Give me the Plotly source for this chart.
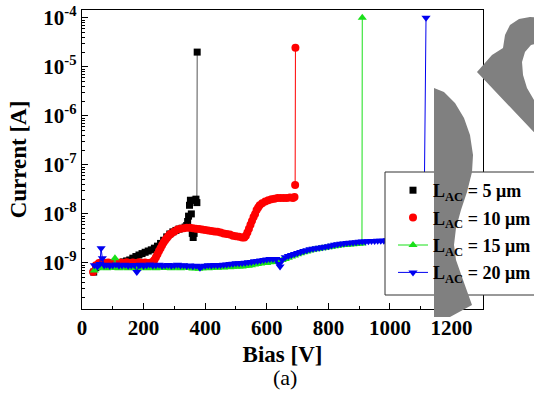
import plotly.graph_objects as go

# ---------------- data ----------------
bias_5 = [38, 45, 55, 65, 75, 85, 95, 105, 115, 125,
          135, 145, 155, 165, 175, 185, 195, 205, 215, 225, 235, 245, 255, 265, 275,
          285, 295, 305, 315, 325, 335,
          340, 343, 346, 349, 352, 355, 358, 361, 364, 367, 370, 373, 374]
cur_5 = [6.5e-10, 8e-10, 9e-10, 1.0e-9, 9.5e-10, 1.0e-9, 1.0e-9, 1.0e-9, 1.0e-9, 1.0e-9,
         1.05e-9, 1.1e-9, 1.15e-9, 1.25e-9, 1.35e-9, 1.45e-9, 1.55e-9, 1.65e-9, 1.75e-9, 1.85e-9,
         2.0e-9, 2.2e-9, 2.5e-9, 2.9e-9, 3.4e-9, 3.9e-9, 4.3e-9, 4.6e-9, 4.9e-9, 5.1e-9, 5.4e-9,
         5.8e-9, 7e-9, 9e-9, 1.5e-8, 1.9e-8, 1.0e-8, 4e-9, 3.3e-9, 4e-9, 1.9e-8, 2.0e-8, 1.7e-8, 2.0e-5]

bias_10 = [36, 45, 55, 65, 75, 85, 95, 105, 115, 125, 135, 145, 155, 165, 175, 185, 195, 205,
           215, 225, 230, 235, 240, 245, 250, 255, 260, 265, 270, 275, 280, 285, 290, 300,
           310, 320, 330, 340, 350, 360, 370, 380, 390, 400, 410, 420, 430, 440, 450, 460,
           470, 480, 490, 500, 510, 520, 527, 532, 537, 542, 547, 552, 557, 562, 567, 572,
           577, 585, 595, 605, 615, 625, 635, 645, 655, 665, 675, 685, 690, 692, 693]
cur_10 = [6.5e-10, 9e-10, 1.0e-9, 1.05e-9, 1.0e-9, 1.02e-9, 1.0e-9, 1.05e-9, 1.0e-9, 1.02e-9,
          1.0e-9, 1.03e-9, 1.0e-9, 1.02e-9, 1.0e-9, 1.03e-9, 1.0e-9, 1.02e-9, 1.0e-9, 1.02e-9,
          1.05e-9, 1.15e-9, 1.3e-9, 1.5e-9, 1.75e-9, 2.0e-9, 2.3e-9, 2.6e-9, 2.9e-9, 3.2e-9,
          3.5e-9, 3.8e-9, 4.0e-9, 4.4e-9, 4.8e-9, 5.0e-9, 5.1e-9, 5.2e-9, 5.2e-9, 5.1e-9,
          5.0e-9, 4.9e-9, 4.8e-9, 4.7e-9, 4.6e-9, 4.5e-9, 4.4e-9, 4.3e-9, 4.2e-9, 4.0e-9,
          3.9e-9, 3.8e-9, 3.6e-9, 3.5e-9, 3.4e-9, 3.3e-9, 3.3e-9, 3.6e-9, 4.2e-9, 5.0e-9,
          6.0e-9, 7.2e-9, 8.6e-9, 1.0e-8, 1.2e-8, 1.35e-8, 1.5e-8, 1.65e-8, 1.8e-8, 1.9e-8,
          2.0e-8, 2.05e-8, 2.1e-8, 2.1e-8, 2.1e-8, 2.1e-8, 2.15e-8, 2.1e-8, 2.2e-8, 3.9e-8, 2.45e-5]

bias_15 = [40, 50, 60, 70, 80, 90, 100, 107, 110, 120, 130, 140, 150, 160, 170, 180, 190, 200,
           210, 220, 230, 240, 250, 260, 270, 280, 290, 300, 310, 320, 330, 340, 350, 360,
           370, 380, 390, 400, 410, 420, 430, 440, 450, 460, 470, 480, 490, 500,
           510, 520, 530, 540, 550, 560, 570, 580, 590, 600, 610, 620, 630, 640, 650, 660,
           670, 680, 690, 700, 710, 720, 730, 740, 750, 760, 770, 780, 790, 800, 810, 820,
           830, 840, 850, 860, 870, 880, 890, 900, 909, 910]
cur_15 = [7e-10, 7.8e-10, 8.2e-10, 8e-10, 7.8e-10, 8.2e-10, 8e-10, 1.25e-9, 8e-10, 7.8e-10,
          8.2e-10, 8e-10, 7.8e-10, 8.1e-10, 8e-10, 7.7e-10, 8e-10, 8.2e-10, 7.8e-10, 8e-10,
          8.1e-10, 7.8e-10, 8e-10, 8.2e-10, 7.9e-10, 8e-10, 7.8e-10, 8.1e-10, 8e-10, 7.8e-10,
          8e-10, 8.2e-10, 7.9e-10, 7.7e-10, 7.8e-10, 7.6e-10, 7.8e-10, 8e-10, 7.8e-10, 8e-10,
          8.1e-10, 8e-10, 8.2e-10, 8.1e-10, 8.3e-10, 8.2e-10, 8.4e-10, 8.5e-10,
          8.5e-10, 8.5e-10, 8.7e-10, 8.8e-10, 9e-10, 9.3e-10, 9.5e-10, 9.7e-10, 1.0e-9, 1.0e-9,
          1.03e-9, 1.05e-9, 1.08e-9, 1.1e-9, 1.15e-9, 1.2e-9, 1.28e-9, 1.35e-9, 1.42e-9, 1.5e-9,
          1.57e-9, 1.65e-9, 1.72e-9, 1.8e-9, 1.85e-9, 1.9e-9, 1.95e-9, 2.0e-9, 2.05e-9, 2.1e-9,
          2.15e-9, 2.2e-9, 2.25e-9, 2.3e-9, 2.32e-9, 2.35e-9, 2.38e-9, 2.4e-9, 2.42e-9, 2.45e-9,
          2.5e-9, 1.0e-4]

bias_20 = [40, 50, 58, 62, 66, 72, 80, 90, 100, 110, 120, 130, 140, 150, 160, 170, 178, 185,
           190, 200, 210, 220, 230, 240, 250, 260, 270, 280, 290, 300, 310, 320, 330, 340,
           350, 360, 370, 380, 383, 390, 400, 410, 420, 430, 440, 450, 460, 470, 480, 490,
           500, 510, 520, 530, 540, 550, 560, 570, 580, 590, 600, 610, 620, 630, 640, 643,
           650, 660, 670, 680, 690, 700, 710, 720, 730, 740, 750, 760, 770, 780, 790, 800,
           810, 820, 830, 840, 850, 860, 870, 880, 890, 900, 910, 920, 930, 940, 950, 960,
           970, 980, 990, 1000, 1010, 1020, 1030, 1040, 1050, 1060, 1070, 1080, 1090, 1100,
           1110, 1117]
cur_20 = [9e-10, 8.5e-10, 9.5e-10, 2.0e-9, 1.25e-9, 9e-10, 9.2e-10, 8.8e-10, 9e-10, 9.3e-10,
          8.9e-10, 9e-10, 9.2e-10, 8.8e-10, 9e-10, 9.1e-10, 6.5e-10, 9e-10,
          9.2e-10, 8.8e-10, 9e-10, 9.3e-10, 8.9e-10, 9e-10, 9.2e-10, 8.8e-10, 9e-10, 9.1e-10,
          8.8e-10, 9e-10, 9.2e-10, 8.9e-10, 9e-10, 8.7e-10, 8.9e-10, 8.6e-10, 8.8e-10, 8.5e-10,
          8e-10, 8.6e-10, 8.8e-10, 9e-10, 8.9e-10, 9.1e-10, 9e-10, 9.1e-10, 9.2e-10, 9.3e-10,
          9.5e-10, 9.6e-10, 9.8e-10, 9.9e-10, 1.0e-9, 1.01e-9, 1.03e-9, 1.05e-9, 1.08e-9,
          1.1e-9, 1.12e-9, 1.15e-9, 1.17e-9, 1.2e-9, 1.2e-9, 1.2e-9, 9.5e-10, 8.5e-10,
          1.15e-9, 1.3e-9, 1.38e-9, 1.45e-9, 1.52e-9, 1.6e-9, 1.68e-9, 1.75e-9, 1.82e-9,
          1.9e-9, 1.95e-9, 2.0e-9, 2.05e-9, 2.1e-9, 2.15e-9, 2.2e-9, 2.28e-9, 2.35e-9, 2.4e-9,
          2.45e-9, 2.5e-9, 2.55e-9, 2.58e-9, 2.6e-9, 2.65e-9, 2.7e-9, 2.72e-9, 2.75e-9, 2.78e-9,
          2.8e-9, 2.8e-9, 2.82e-9, 2.84e-9, 2.85e-9, 2.9e-9, 2.9e-9, 2.9e-9, 2.9e-9, 2.9e-9,
          2.9e-9, 2.9e-9, 2.9e-9, 2.9e-9, 2.9e-9, 2.9e-9, 2.9e-9, 2.9e-9, 1.0e-4]

series_names = ["L<sub>AC</sub> = 5 \u03bcm", "L<sub>AC</sub> = 10 \u03bcm",
                "L<sub>AC</sub> = 15 \u03bcm", "L<sub>AC</sub> = 20 \u03bcm"]
y_tick_values = [1e-9, 1e-8, 1e-7, 1e-6, 1e-5, 1e-4]
y_tick_labels = ["10<sup>-9</sup>", "10<sup>-8</sup>", "10<sup>-7</sup>",
                 "10<sup>-6</sup>", "10<sup>-5</sup>", "10<sup>-4</sup>"]
x_tick_values = [0, 200, 400, 600, 800, 1000, 1200]

FONT = "Liberation Serif"
BLACK, RED, GREEN, BLUE = "#000000", "#ff0000", "#19e019", "#0000f0"

fig = go.Figure()

# breakdown jump lines for the marker-only series
fig.add_trace(go.Scatter(x=bias_5[-2:], y=cur_5[-2:], mode="lines",
                         line=dict(color="#555555", width=1), showlegend=False, hoverinfo="skip"))
fig.add_trace(go.Scatter(x=bias_10[-2:], y=cur_10[-2:], mode="lines",
                         line=dict(color=RED, width=1), showlegend=False, hoverinfo="skip"))

fig.add_trace(go.Scatter(x=bias_5, y=cur_5, mode="markers", name=series_names[0],
                         legendgroup="a",
                         marker=dict(symbol="square", size=7, color=BLACK)))
fig.add_trace(go.Scatter(x=bias_10, y=cur_10, mode="markers", name=series_names[1],
                         legendgroup="b",
                         marker=dict(symbol="circle", size=8, color=RED)))
fig.add_trace(go.Scatter(x=bias_15, y=cur_15, mode="lines+markers", name=series_names[2],
                         legendgroup="c",
                         line=dict(color=GREEN, width=1),
                         marker=dict(symbol="triangle-up", size=8, color=GREEN)))
fig.add_trace(go.Scatter(x=bias_20, y=cur_20, mode="lines+markers", name=series_names[3],
                         legendgroup="d",
                         line=dict(color=BLUE, width=1),
                         marker=dict(symbol="triangle-down", size=8, color=BLUE)))

W, H = 534, 405
L, R, T, B = 82, 51, 10, 96
pw, ph = W - L - R, H - T - B


def px(xp):
    return (xp - L) / pw


def py(yp):
    return (H - B - yp) / ph


def poly(points):
    s = "M " + " L ".join(f"{px(a):.4f},{py(b):.4f}" for a, b in points) + " Z"
    return s


shapes = [
    # legend box
    dict(type="rect", xref="paper", yref="paper", x0=px(385), x1=px(545), y0=py(295), y1=py(172),
         fillcolor="white", line=dict(color="#333333", width=1), layer="above"),
    # grey watermark strokes
    dict(type="path", xref="paper", yref="paper", layer="above",
         path=poly([(477, 72), (492, 55), (503, 48), (505, 35), (510, 25), (519, 19), (530, 17),
                    (545, 18), (545, 42), (531, 45), (525, 52), (522, 62), (523, 75), (527, 88),
                    (534, 100), (545, 111), (545, 144)]),
         fillcolor="#808080", line=dict(width=0)),
    dict(type="path", xref="paper", yref="paper", layer="above",
         path=poly([(434, 88), (444, 92), (455, 103), (464, 118), (470, 135), (473, 155),
                    (472, 172), (467, 192), (461, 210), (456, 228), (454, 245), (456, 260),
                    (462, 277), (472, 305), (450, 317), (434, 317)]),
         fillcolor="#808080", line=dict(width=0)),
]

fig.update_layout(
    width=W, height=H,
    margin=dict(l=L, r=R, t=T, b=B, autoexpand=False),
    paper_bgcolor="white", plot_bgcolor="white",
    font=dict(family=FONT, color="black"),
    showlegend=True,
    legend=dict(x=px(393), y=py(172), xanchor="left", yanchor="top",
                bgcolor="rgba(0,0,0,0)", borderwidth=0,
                font=dict(family=FONT, size=18, weight="bold", color="black"),
                tracegroupgap=1, traceorder="grouped"),
    shapes=shapes,
    annotations=[dict(text="(a)", x=px(285), y=py(377), xref="paper", yref="paper",
                      xanchor="center", yanchor="middle",
                      showarrow=False, font=dict(family=FONT, size=22, color="black"))],
)

fig.update_xaxes(
    range=[0, 1302], tickvals=x_tick_values,
    ticks="inside", ticklen=6, tickwidth=1.2, tickcolor="black",
    minor=dict(ticks="inside", ticklen=3, dtick=100, tick0=0, tickcolor="black", tickwidth=1),
    showline=True, linecolor="black", linewidth=1.4, mirror=True,
    showgrid=False, zeroline=False,
    tickfont=dict(family=FONT, size=21, weight="bold"),
    title=dict(text="Bias [V]", font=dict(family=FONT, size=23, weight="bold"), standoff=6),
)
fig.update_yaxes(
    type="log", range=[-9.94, -3.84],
    tickvals=y_tick_values, ticktext=y_tick_labels,
    ticks="inside", ticklen=6, tickwidth=1.2, tickcolor="black",
    minor=dict(ticks="inside", ticklen=3, dtick="D1", tickcolor="black", tickwidth=1),
    showline=True, linecolor="black", linewidth=1.4, mirror=True,
    showgrid=False, zeroline=False,
    tickfont=dict(family=FONT, size=21, weight="bold"),
    title=dict(text="Current [A]", font=dict(family=FONT, size=23, weight="bold"), standoff=10),
)

fig.write_html("out.html", config={"displayModeBar": False},
               post_script="document.body.style.margin='0px';")
